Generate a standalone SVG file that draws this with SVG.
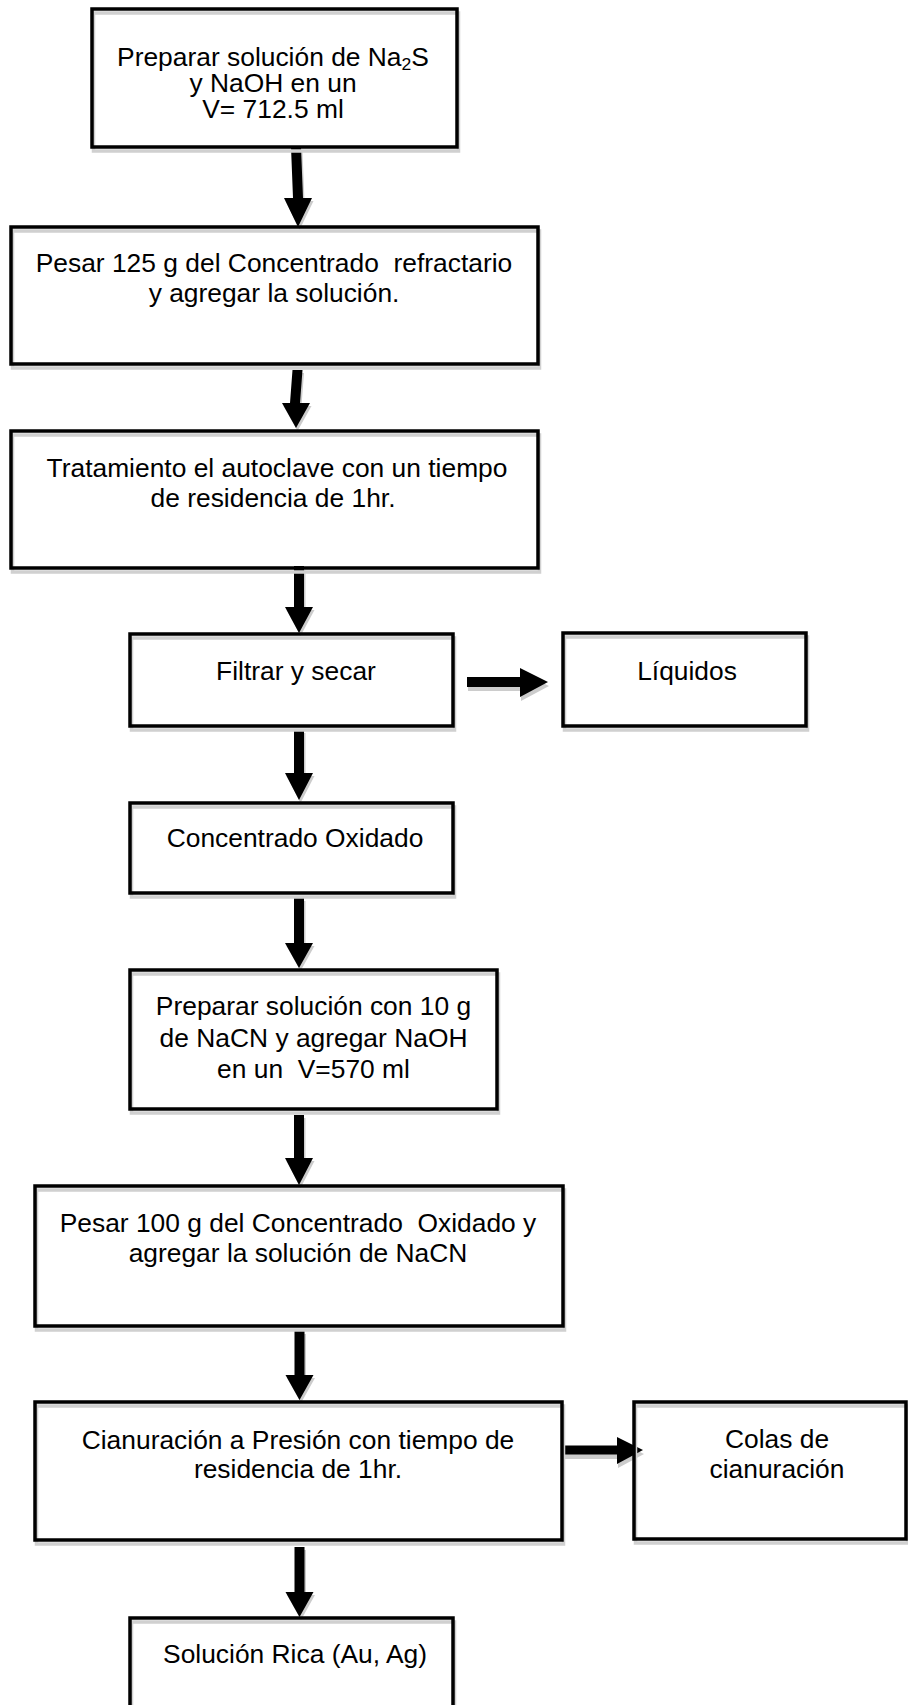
<svg xmlns="http://www.w3.org/2000/svg" width="908" height="1705" viewBox="0 0 908 1705">
<style>
.box{fill:none;stroke:#000;stroke-width:3.5}
.sh{fill:none;stroke:#d0d0d0;stroke-width:3.5}
.arr{fill:#000}
.ash{fill:#cccccc}
.t{font-family:"Liberation Sans",Arial,sans-serif;font-size:25.5px;fill:#000;text-anchor:middle;white-space:pre}
</style>
<rect width="908" height="1705" fill="#fff"/>
<g id="connectors">
  <polygon class="ash" points="292.5,152 302.5,152 304.5,201 313.5,201 299.5,230 285.5,201 294.5,201"/>
  <polygon class="arr" points="291,147 301,147 303,198 312,198 298,227 284,198 293,198"/>
  <polygon class="ash" points="294,373 304,373 301.5,406 311.5,406 297.5,431 283.5,406 291.5,406"/>
  <polygon class="arr" points="292.5,370 302.5,370 300,403 310,403 296,428 282,403 290,403"/>
  <polygon class="ash" points="295.5,570 305.5,570 305.5,610 314.5,610 300.5,636 286.5,610 295.5,610"/>
  <polygon class="arr" points="294,566 304,566 304,607 313,607 299,633 285,607 294,607"/>
  <polygon class="ash" points="295.5,733 305.5,733 305.5,776 314.5,776 300.5,803 286.5,776 295.5,776"/>
  <polygon class="arr" points="294,730 304,730 304,773 313,773 299,800 285,773 294,773"/>
  <polygon class="ash" points="295.5,901 305.5,901 305.5,946 314.5,946 300.5,971 286.5,946 295.5,946"/>
  <polygon class="arr" points="294,898 304,898 304,943 313,943 299,968 285,943 294,943"/>
  <polygon class="ash" points="295.5,1118 305.5,1118 305.5,1161 314.5,1161 300.5,1188 286.5,1161 295.5,1161"/>
  <polygon class="arr" points="294,1115 304,1115 304,1158 313,1158 299,1185 285,1158 294,1158"/>
  <polygon class="ash" points="296,1334 306,1334 306,1378 315,1378 301,1403 287,1378 296,1378"/>
  <polygon class="arr" points="294.5,1331 304.5,1331 304.5,1375 313.5,1375 299.5,1400 285.5,1375 294.5,1375"/>
  <polygon class="ash" points="296,1550 306,1550 306,1595 315,1595 301,1620 287,1595 296,1595"/>
  <polygon class="arr" points="294.5,1547 304.5,1547 304.5,1592 313.5,1592 299.5,1617 285.5,1592 294.5,1592"/>
  <polygon class="ash" points="468,681 521,681 521,672 549,686 521,701 521,691 468,691"/>
  <polygon class="arr" points="467,677 520,677 520,668 548,682 520,697 520,687 467,687"/>
  <polygon class="ash" points="564,1449 618,1449 618,1441 644,1454 618,1468 618,1459 564,1459"/>
  <polygon class="arr" points="563,1445.5 617,1445.5 617,1437 643,1450 617,1464 617,1454.5 563,1454.5"/>
</g>
<g id="n1">
  <rect class="sh" x="93.5" y="13" width="365" height="138"/>
  <rect class="box" x="92" y="9" width="365" height="138"/>
  <text class="t" transform="matrix(1.035 0 0 1 273 0)" x="0" y="66">Preparar solución de Na<tspan font-size="17" dy="4">2</tspan><tspan dy="-4">S</tspan></text>
  <text class="t" transform="matrix(1.035 0 0 1 273 0)" x="0" y="92">y NaOH en un</text>
  <text class="t" transform="matrix(1.035 0 0 1 273 0)" x="0" y="118">V= 712.5 ml</text>
</g>
<g id="n2">
  <rect class="sh" x="12.5" y="231" width="527" height="137"/>
  <rect class="box" x="11" y="227" width="527" height="137"/>
  <text class="t" transform="matrix(1.035 0 0 1 274 0)" x="0" y="272">Pesar 125 g del Concentrado  refractario</text>
  <text class="t" transform="matrix(1.035 0 0 1 274 0)" x="0" y="302">y agregar la solución.</text>
</g>
<g id="n3">
  <rect class="sh" x="12.5" y="435" width="527" height="137"/>
  <rect class="box" x="11" y="431" width="527" height="137"/>
  <text class="t" transform="matrix(1.035 0 0 1 277 0)" x="0" y="477">Tratamiento el autoclave con un tiempo</text>
  <text class="t" transform="matrix(1.035 0 0 1 273 0)" x="0" y="507">de residencia de 1hr.</text>
</g>
<g id="n4">
  <rect class="sh" x="131.5" y="638" width="323" height="92"/>
  <rect class="box" x="130" y="634" width="323" height="92"/>
  <text class="t" transform="matrix(1.035 0 0 1 296 0)" x="0" y="680">Filtrar y secar</text>
</g>
<g id="n5">
  <rect class="sh" x="564.5" y="637" width="243" height="93"/>
  <rect class="box" x="563" y="633" width="243" height="93"/>
  <text class="t" transform="matrix(1.035 0 0 1 687 0)" x="0" y="680">Líquidos</text>
</g>
<g id="n6">
  <rect class="sh" x="131.5" y="807" width="323" height="90"/>
  <rect class="box" x="130" y="803" width="323" height="90"/>
  <text class="t" transform="matrix(1.035 0 0 1 295 0)" x="0" y="847">Concentrado Oxidado</text>
</g>
<g id="n7">
  <rect class="sh" x="131.5" y="974" width="367" height="139"/>
  <rect class="box" x="130" y="970" width="367" height="139"/>
  <text class="t" transform="matrix(1.035 0 0 1 313.5 0)" x="0" y="1015">Preparar solución con 10 g</text>
  <text class="t" transform="matrix(1.035 0 0 1 313.5 0)" x="0" y="1047">de NaCN y agregar NaOH</text>
  <text class="t" transform="matrix(1.035 0 0 1 313.5 0)" x="0" y="1078">en un  V=570 ml</text>
</g>
<g id="n8">
  <rect class="sh" x="36.5" y="1190" width="528" height="140"/>
  <rect class="box" x="35" y="1186" width="528" height="140"/>
  <text class="t" transform="matrix(1.035 0 0 1 298 0)" x="0" y="1232">Pesar 100 g del Concentrado  Oxidado y</text>
  <text class="t" transform="matrix(1.035 0 0 1 298 0)" x="0" y="1262">agregar la solución de NaCN</text>
</g>
<g id="n9">
  <rect class="sh" x="36.5" y="1406" width="527" height="138"/>
  <rect class="box" x="35" y="1402" width="527" height="138"/>
  <text class="t" transform="matrix(1.035 0 0 1 298 0)" x="0" y="1449">Cianuración a Presión con tiempo de</text>
  <text class="t" transform="matrix(1.035 0 0 1 298 0)" x="0" y="1478">residencia de 1hr.</text>
</g>
<g id="n10">
  <rect class="sh" x="635.5" y="1406" width="272" height="137"/>
  <rect class="box" x="634" y="1402" width="272" height="137"/>
  <text class="t" transform="matrix(1.035 0 0 1 777 0)" x="0" y="1448">Colas de</text>
  <text class="t" transform="matrix(1.035 0 0 1 777 0)" x="0" y="1478">cianuración</text>
</g>
<g id="n11">
  <rect class="sh" x="131.5" y="1622" width="323" height="120"/>
  <rect class="box" x="130" y="1618" width="323" height="120"/>
  <text class="t" transform="matrix(1.035 0 0 1 295 0)" x="0" y="1663">Solución Rica (Au, Ag)</text>
</g>
</svg>
